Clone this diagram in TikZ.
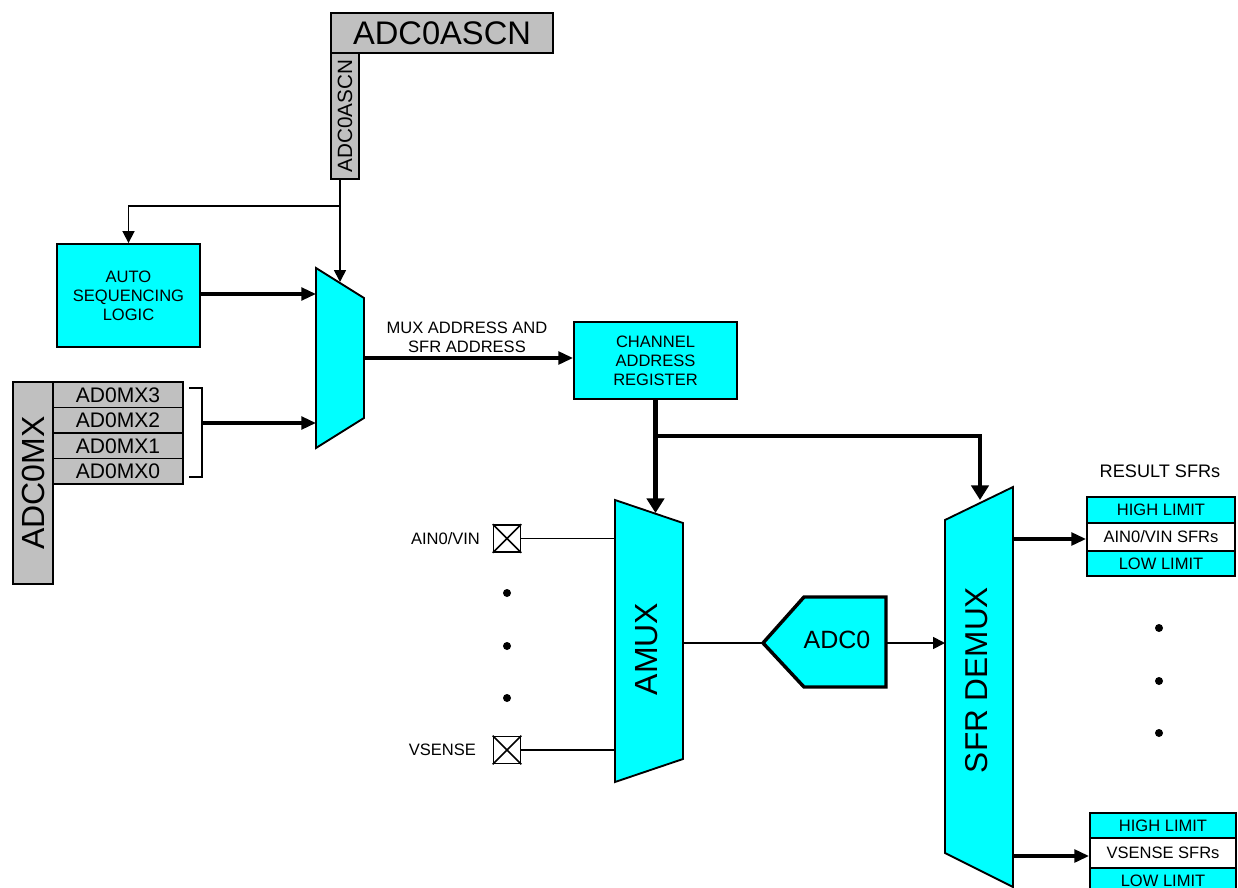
\documentclass[tikz,border=0pt]{standalone}
\usepackage{fontspec}
\setmainfont{Liberation Sans}
\usetikzlibrary{arrows.meta}
\definecolor{cyanfill}{RGB}{0,255,255}
\definecolor{reggray}{RGB}{192,192,192}

\begin{document}
\begin{tikzpicture}[x=0.75pt,y=-0.75pt,
  smalltxt/.style={font=\fontsize{12.4}{14.2}\selectfont},
  cbox/.style={draw, line width=1.4pt, fill=cyanfill, inner sep=0pt, align=center, smalltxt},
  gbox/.style={draw, line width=1.4pt, fill=reggray, inner sep=0pt},
  cshape/.style={draw, line width=1.4pt, fill=cyanfill, line join=miter},
  wire/.style={line width=1.3pt},
  sig/.style={wire, -{Triangle[length=9pt,width=9pt]}},
  bus/.style={line width=2.5pt, -{Triangle[length=11pt,width=9.5pt]}},
  heavy/.style={line width=3.5pt},
  heavyarrow/.style={heavy, -{Triangle[length=11pt,width=13pt]}},
  pad/.style={draw, line width=1.3pt, fill=white, minimum size=27*0.75pt, inner sep=0pt},
  dot/.style={fill=black}
]
\useasboundingbox (0,0) rectangle (1238,888);

% ---- ADC0ASCN register ----
\node[gbox, minimum width=222*0.75pt, minimum height=40*0.75pt,
      font=\fontsize{24.5}{28}\selectfont] (ascn) at (442,33) {ADC0ASCN};
\node[gbox, rotate=90, minimum width=126*0.75pt, minimum height=28*0.75pt,
      font=\fontsize{15.5}{18}\selectfont] (ascnv) at (345,116) {ADC0ASCN};

% ---- auto sequencing logic ----
\node[cbox, minimum width=143*0.75pt, minimum height=103*0.75pt] (auto) at (128.5,295.5)
  {AUTO\\SEQUENCING\\LOGIC};

% ---- input mux ----
\coordinate (m1a) at (316,268);
\coordinate (m1b) at (364,298);
\coordinate (m1c) at (364,418);
\coordinate (m1d) at (316,448);
\draw[cshape] (m1a) -- (m1b) -- (m1c) -- (m1d) -- cycle;

% ---- ADC0MX register ----
\node[gbox, rotate=90, minimum width=202*0.75pt, minimum height=40*0.75pt,
      font=\fontsize{24}{28}\selectfont] (mx) at (33,483) {ADC0MX};
\begin{scope}[every node/.style={gbox, minimum width=130*0.75pt, minimum height=25.5*0.75pt,
      font=\fontsize{15.8}{18}\selectfont}]
  \node (mx3) at (118,394.75) {AD0MX3};
  \node (mx2) at (118,420.25) {AD0MX2};
  \node (mx1) at (118,445.75) {AD0MX1};
  \node (mx0) at (118,471.25) {AD0MX0};
\end{scope}
\coordinate (bt) at (189,388);
\coordinate (bb) at (189,477);
\coordinate (bm) at (202,423);
\draw[wire] (bt) -| (bm |- bb) -- (bb);

% ---- channel address register ----
\node[cbox, minimum width=163*0.75pt, minimum height=77*0.75pt] (car) at (655.5,360.5)
  {CHANNEL\\ADDRESS\\REGISTER};
\node[smalltxt, align=center] (mxlab) at (467,337.5) {MUX ADDRESS AND\\SFR ADDRESS};

% ---- control connections ----
\coordinate (br) at (340,206);
\coordinate (m1top) at (340,282);
\coordinate (ain1) at (316,294);
\coordinate (m1out) at (364,358);
\draw[wire] (br |- ascnv.west) -- (br);
\draw[sig] (br) -| (auto.north);
\draw[sig] (br) -- (m1top);
\draw[bus] (auto.east |- ain1) -- (ain1);
\draw[bus] (bm) -- (bm -| m1a);
\draw[bus] (m1out) -- (m1out -| car.west);

% ---- analog mux ----
\coordinate (am1) at (615,500);
\coordinate (am2) at (683,523);
\coordinate (am3) at (683,759);
\coordinate (am4) at (615,782);
\draw[cshape] (am1) -- (am2) -- (am3) -- (am4) -- cycle;
\node[rotate=90, font=\fontsize{24}{28}\selectfont] (amux) at (647,649) {AMUX};

% ---- SFR demux ----
\coordinate (dm1) at (945,520);
\coordinate (dm2) at (1013,487);
\coordinate (dm3) at (1013,887);
\coordinate (dm4) at (945,853);
\draw[cshape] (dm1) -- (dm2) -- (dm3) -- (dm4) -- cycle;
\node[rotate=90, font=\fontsize{23.7}{28}\selectfont] (dmx) at (977,680) {SFR DEMUX};

% ---- address bus ----
\coordinate (j) at (655.5,436);
\coordinate (amuxin) at (655.5,513);
\coordinate (dmxin) at (980,500);
\draw[heavy] (car.south) -- (j);
\draw[heavyarrow] (j) -- (amuxin);
\draw[heavyarrow] (j) -| (dmxin);

% ---- input pads ----
\node[pad] (pA) at (507,538.5) {};
\node[pad] (pV) at (507,750) {};
\foreach \p in {pA,pV}
  \draw[wire] (\p.north west) -- (\p.south east) (\p.north east) -- (\p.south west);
\draw[wire] (pA.east) -- (pA -| am1);
\draw[wire] (pV.east) -- (pV -| am1);
\node[smalltxt, anchor=east] (lA) at ([xshift=-6pt]pA.west) {AIN0/VIN};
\node[smalltxt, anchor=east] (lV) at ([xshift=-9pt]pV.west) {VSENSE};
\fill[dot] (507,593) circle (3pt);
\fill[dot] (507,646) circle (3pt);
\fill[dot] (507,698) circle (3pt);

% ---- ADC0 ----
\coordinate (a1) at (763,643);
\coordinate (a2) at (804,597);
\coordinate (a3) at (886,597);
\coordinate (a4) at (886,687);
\coordinate (a5) at (804,687);
\draw[draw, line width=2.6pt, fill=cyanfill, line join=miter] (a1) -- (a2) -- (a3) -- (a4) -- (a5) -- cycle;
\node[font=\fontsize{18.75}{22}\selectfont] (adc) at (837,640) {ADC0};
\coordinate (amout) at (683,643);
\coordinate (aout) at (886,643);
\draw[wire] (amout) -- (a1);
\draw[sig] (aout) -- (aout -| dm1);

% ---- result SFRs ----
\node[font=\fontsize{13.6}{16}\selectfont] (res) at (1160,471) {RESULT SFRs};
\node[cbox, minimum width=148*0.75pt, minimum height=26*0.75pt] (s1a) at (1161,510) {HIGH LIMIT};
\node[cbox, fill=white, minimum width=148*0.75pt, minimum height=28*0.75pt] (s1b) at (1161,537) {AIN0/VIN SFRs};
\node[cbox, minimum width=148*0.75pt, minimum height=25*0.75pt] (s1c) at (1161,563.5) {LOW LIMIT};

\node[cbox, minimum width=146*0.75pt, minimum height=25*0.75pt] (s2a) at (1163,825.5) {HIGH LIMIT};
\node[cbox, fill=white, minimum width=146*0.75pt, minimum height=30*0.75pt] (s2b) at (1163,853) {VSENSE SFRs};
\node[cbox, minimum width=146*0.75pt, minimum height=25*0.75pt] (s2c) at (1163,880.5) {LOW LIMIT};

\coordinate (d1) at (1013,539);
\coordinate (d2) at (1013,856);
\draw[bus] (d1) -- (d1 -| s1b.west);
\draw[bus] (d2) -- (d2 -| s2b.west);

\fill[dot] (1159,628) circle (3pt);
\fill[dot] (1159,681) circle (3pt);
\fill[dot] (1159,733) circle (3pt);
\end{tikzpicture}
\end{document}
